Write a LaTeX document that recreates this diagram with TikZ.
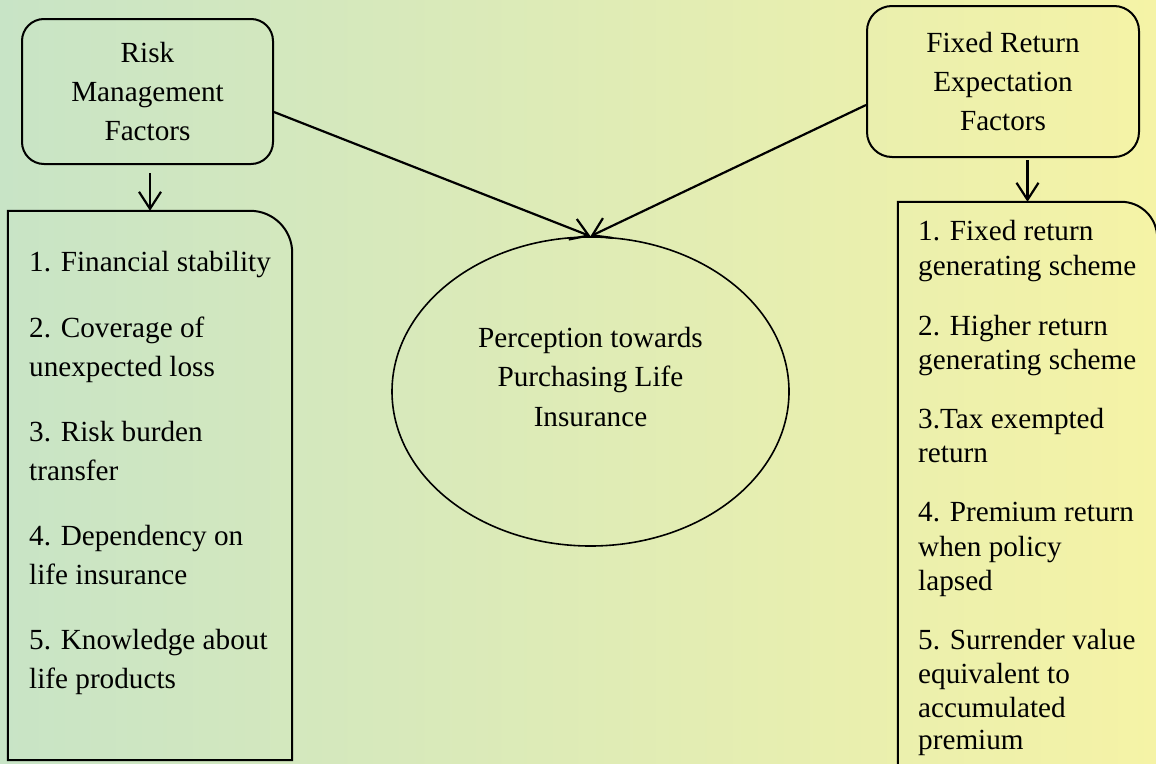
\documentclass[tikz,border=0pt]{standalone}
\usepackage{fontspec}
\setmainfont{Liberation Serif}
\usetikzlibrary{shapes.geometric,arrows.meta}
\definecolor{bgleft}{RGB}{200,228,198}
\definecolor{bgright}{RGB}{245,243,166}
\begin{document}
\begin{tikzpicture}[x=1pt,y=-1pt,
  txt/.style={font=\fontsize{29.2}{39}\selectfont, inner sep=0pt, anchor=base west},
  topbox/.style={draw, line width=2pt, align=center, inner sep=0pt, font=\fontsize{29.2}{38.6}\selectfont},
  listbox/.style={minimum width=#1, inner sep=0pt},
  outline/.style={line width=2pt},
  arr/.style={line width=2.2pt, -{Straight Barb[length=17pt,width=22pt]}},
]
\clip (0,0) rectangle (1156,763);
\shade[left color=bgleft, right color=bgright] (0,0) rectangle (1156,763);

% top boxes
\node[topbox, rounded corners=22pt, minimum width=251pt, minimum height=145pt] (lbox) at (147.5,91.5) {Risk\\Management\\Factors};
\node[topbox, rounded corners=25pt, minimum width=272pt, minimum height=151pt, yshift=2pt] (rbox) at (1003,83.5) {Fixed Return\\Expectation\\Factors};

% ellipse
\node[draw, ellipse, line width=1.6pt, minimum width=397pt, minimum height=309pt, inner sep=0pt] (ell) at (590.5,391.5) {};
\node[font=\fontsize{29.2}{39.6}\selectfont, align=center, inner sep=0pt, anchor=north] (elltext) at (590.5,326.8) {Perception towards\\Purchasing Life\\Insurance};

% list boxes
\node[listbox=284pt, minimum height=549pt] (llist) at (150,485.5) {};
\draw[outline] (llist.south west) -- (llist.north west) [rounded corners=42pt] -- (llist.north east) [sharp corners] -- (llist.south east) -- cycle;
\node[listbox=259pt, minimum height=578pt] (rlist) at (1027.5,491) {};
\draw[outline] (rlist.south west) -- (rlist.north west) [rounded corners=36pt] -- (rlist.north east) [sharp corners] -- (rlist.south east);

% left list text
\foreach \yy/\itemtext [count=\i] in {271/{1. Financial stability}, 337/{2. Coverage of}, 376.5/{unexpected loss}, 441/{3. Risk burden}, 480.5/{transfer}, 545/{4. Dependency on}, 584.5/{life insurance}, 649.5/{5. Knowledge about}, 688.5/{life products}}
  \node[txt] (l\i) at (29,\yy) {\itemtext};

% right list text
\foreach \yy/\itemtext [count=\i] in {240/{1. Fixed return}, 275.5/{generating scheme}, 335/{2. Higher return}, 369.5/{generating scheme}, 428.5/{3.Tax exempted}, 462.5/{return}, 521.5/{4. Premium return}, 556/{when policy}, 590/{lapsed}, 649.5/{5. Surrender value}, 683.5/{equivalent to}, 717.5/{accumulated}, 749.5/{premium}}
  \node[txt] (r\i) at (918,\yy) {\itemtext};

% connectors
\coordinate (la) at (150,173);
\coordinate (ra) at (1027.5,160);
\draw[arr] (la) -- (llist.north);
\draw[arr] (ra) -- (rlist.north);
\draw[arr] ([yshift=-20.5pt]lbox.east) -- (ell.north);
\draw[arr] ([yshift=-23.5pt]rbox.west) -- (ell.north);
\end{tikzpicture}
\end{document}
